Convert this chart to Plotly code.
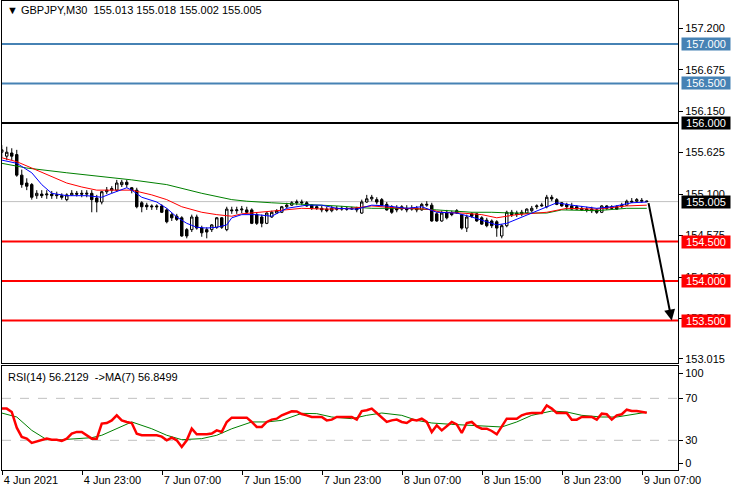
import plotly.graph_objects as go

# ---------------- data ----------------
bar_idx = list(range(130))
open_ = [155.63, 155.58, 155.62, 155.60, 155.34, 155.24, 155.22, 155.08, 155.10, 155.09,
         155.10, 155.08, 155.08, 155.03, 155.09, 155.11, 155.11, 155.10, 155.11, 155.05,
         155.00, 155.13, 155.15, 155.15, 155.22, 155.25, 155.18, 155.15, 154.99, 154.96,
         154.95, 154.95, 154.95, 154.90, 154.84, 154.82, 154.80, 154.65, 154.65, 154.81,
         154.67, 154.65, 154.65, 154.68, 154.80, 154.65, 154.90, 154.89, 154.90, 154.90,
         154.90, 154.84, 154.81, 154.73, 154.81, 154.86, 154.87, 154.94, 154.96, 154.99,
         155.00, 154.99, 154.96, 154.94, 154.92, 154.91, 154.89, 154.92, 154.91, 154.92,
         154.91, 154.92, 154.86, 155.00, 155.04, 155.03, 155.03, 154.97, 154.94, 154.92,
         154.91, 154.92, 154.91, 154.92, 154.90, 154.96, 154.96, 154.85, 154.76, 154.87,
         154.86, 154.89, 154.84, 154.67, 154.85, 154.85, 154.80, 154.77, 154.76, 154.75,
         154.57, 154.70, 154.87, 154.86, 154.87, 154.86, 154.89, 154.94, 154.95, 154.94,
         155.06, 155.03, 154.99, 154.97, 154.95, 154.94, 154.92, 154.91, 154.91, 154.90,
         154.87, 154.95, 154.94, 154.94, 154.94, 154.96, 155.01, 155.01, 155.01, 155.013]
high_ = [155.72, 155.70, 155.68, 155.66, 155.41, 155.30, 155.24, 155.15, 155.15, 155.15,
         155.14, 155.13, 155.11, 155.11, 155.15, 155.14, 155.15, 155.15, 155.15, 155.09,
         155.14, 155.19, 155.20, 155.28, 155.28, 155.28, 155.19, 155.18, 155.01, 154.99,
         154.97, 154.97, 154.97, 154.92, 154.86, 154.85, 154.82, 154.67, 154.84, 154.84,
         154.70, 154.68, 154.72, 154.81, 154.81, 154.94, 154.94, 154.94, 154.95, 154.94,
         154.92, 154.86, 154.84, 154.87, 154.89, 154.91, 154.95, 154.99, 155.01, 155.03,
         155.03, 155.01, 154.97, 154.96, 154.95, 154.94, 154.95, 154.95, 154.95, 154.94,
         154.94, 154.94, 155.03, 155.09, 155.09, 155.06, 155.05, 155.00, 154.96, 154.96,
         154.96, 154.96, 154.96, 154.95, 154.99, 155.01, 154.99, 154.87, 154.89, 154.90,
         154.89, 154.91, 154.85, 154.84, 154.87, 154.86, 154.82, 154.80, 154.78, 154.77,
         154.72, 154.89, 154.90, 154.89, 154.90, 154.92, 154.95, 154.97, 154.99, 155.09,
         155.09, 155.05, 155.00, 154.99, 154.99, 154.96, 154.95, 154.94, 154.94, 154.92,
         154.96, 154.96, 154.96, 154.96, 154.99, 155.03, 155.05, 155.05, 155.05, 155.018]
low_ = [155.56, 155.53, 155.53, 155.32, 155.18, 155.15, 155.03, 155.04, 155.05, 155.04,
        155.04, 155.04, 155.03, 155.01, 155.08, 155.07, 155.06, 155.06, 154.87, 154.87,
        154.97, 155.10, 155.11, 155.13, 155.19, 155.18, 155.11, 154.92, 154.87, 154.90,
        154.90, 154.90, 154.86, 154.73, 154.76, 154.76, 154.56, 154.54, 154.62, 154.65,
        154.56, 154.54, 154.62, 154.66, 154.66, 154.63, 154.85, 154.85, 154.86, 154.85,
        154.72, 154.71, 154.68, 154.72, 154.80, 154.85, 154.86, 154.92, 154.95, 154.96,
        154.96, 154.94, 154.90, 154.90, 154.87, 154.87, 154.87, 154.89, 154.89, 154.89,
        154.90, 154.87, 154.85, 154.99, 155.01, 154.97, 154.95, 154.89, 154.85, 154.87,
        154.89, 154.87, 154.89, 154.87, 154.89, 154.94, 154.75, 154.75, 154.75, 154.78,
        154.82, 154.85, 154.65, 154.62, 154.80, 154.75, 154.71, 154.68, 154.67, 154.56,
        154.54, 154.68, 154.81, 154.81, 154.82, 154.85, 154.87, 154.91, 154.94, 154.92,
        155.01, 154.96, 154.94, 154.90, 154.90, 154.90, 154.89, 154.87, 154.86, 154.85,
        154.86, 154.90, 154.90, 154.90, 154.92, 154.95, 154.99, 154.99, 154.99, 155.002]
close_ = [155.66, 155.63, 155.58, 155.34, 155.22, 155.20, 155.06, 155.11, 155.08, 155.10,
          155.08, 155.09, 155.06, 155.09, 155.11, 155.10, 155.10, 155.11, 155.03, 155.00,
          155.13, 155.15, 155.17, 155.24, 155.25, 155.22, 155.15, 154.94, 154.94, 154.94,
          154.94, 154.94, 154.87, 154.75, 154.80, 154.78, 154.57, 154.57, 154.81, 154.67,
          154.61, 154.62, 154.71, 154.80, 154.68, 154.91, 154.89, 154.90, 154.91, 154.87,
          154.73, 154.73, 154.73, 154.86, 154.87, 154.89, 154.94, 154.96, 154.99, 155.00,
          154.99, 154.95, 154.92, 154.92, 154.90, 154.89, 154.92, 154.91, 154.92, 154.91,
          154.92, 154.90, 155.00, 155.04, 155.06, 155.00, 154.96, 154.90, 154.87, 154.90,
          154.94, 154.90, 154.92, 154.90, 154.97, 154.97, 154.76, 154.76, 154.86, 154.80,
          154.84, 154.86, 154.67, 154.81, 154.82, 154.76, 154.72, 154.70, 154.70, 154.67,
          154.70, 154.87, 154.84, 154.84, 154.85, 154.91, 154.92, 154.95, 154.96, 155.06,
          155.04, 154.97, 154.95, 154.94, 154.91, 154.91, 154.90, 154.90, 154.89, 154.87,
          154.95, 154.92, 154.92, 154.91, 154.96, 155.01, 155.00, 155.03, 155.02, 155.005]

ma_fast_idx = [0, 3, 6, 8, 10, 13, 17, 20, 22, 25, 26, 28, 31, 33, 35, 37, 39, 41, 43, 45,
               46, 48, 51, 54, 57, 61, 64, 67, 71, 74, 77, 81, 84, 87, 91, 94, 97, 99, 101,
               104, 106, 109, 111, 114, 119, 122, 126, 129]
ma_fast = [155.53, 155.49, 155.37, 155.22, 155.11, 155.08, 155.08, 155.06, 155.11, 155.18,
           155.15, 155.06, 155.00, 154.92, 154.81, 154.73, 154.68, 154.67, 154.68, 154.71,
           154.80, 154.84, 154.84, 154.82, 154.92, 154.96, 154.96, 154.92, 154.91, 154.96,
           154.95, 154.92, 154.94, 154.87, 154.86, 154.81, 154.75, 154.71, 154.73, 154.81,
           154.86, 154.94, 154.99, 154.96, 154.92, 154.94, 154.99, 155.00]
ma_mid_idx = [0, 3, 6, 10, 13, 16, 19, 23, 26, 30, 33, 36, 40, 43, 46, 48, 52, 55, 60, 65,
              70, 74, 80, 85, 88, 92, 96, 99, 103, 109, 113, 119, 125, 129]
ma_mid = [155.56, 155.51, 155.43, 155.32, 155.24, 155.19, 155.15, 155.15, 155.15, 155.09,
          155.03, 154.94, 154.87, 154.84, 154.82, 154.85, 154.87, 154.89, 154.92, 154.91,
          154.92, 154.95, 154.92, 154.91, 154.87, 154.86, 154.84, 154.80, 154.84, 154.87,
          154.92, 154.91, 154.95, 154.96]
ma_slow_idx = [0, 5, 13, 20, 26, 33, 40, 46, 49, 54, 61, 67, 74, 81, 87, 94, 98, 102, 109,
               112, 119, 125, 129]
ma_slow = [155.49, 155.43, 155.37, 155.32, 155.28, 155.22, 155.11, 155.03, 155.01, 154.99,
           154.97, 154.95, 154.92, 154.92, 154.90, 154.87, 154.87, 154.86, 154.86, 154.90,
           154.89, 154.92, 154.92]

rsi = [60.2, 60.2, 57, 42, 33.2, 31.6, 27.5, 29, 30.6, 31.6,
       30.6, 30.6, 29.4, 31.6, 36.3, 38, 38, 34.8, 31.6, 31.6,
       45.9, 46.5, 49, 53.8, 49, 47.5, 46.5, 36.3, 34.8, 34.8,
       34.8, 34.8, 33.5, 30, 32.5, 30, 23.7, 30, 41.1, 35.7,
       35.7, 35.7, 36.5, 39.5, 38, 47.5, 51.6, 51.6, 51.6, 51.6,
       47.5, 42.7, 42.7, 47.5, 49.7, 50.6, 53.8, 55.4, 57.6, 57.5,
       55, 53.8, 52.2, 52.2, 52.2, 49, 49.7, 52.2, 52.2, 52.2,
       52.2, 49.7, 57.9, 58.6, 60.2, 56, 52, 47.5, 49, 49.7,
       47.5, 46.5, 49.7, 49, 50.6, 47.5, 37.9, 44.3, 39.5, 43.3,
       47.5, 45.2, 37, 46.5, 47.5, 43.3, 41.1, 41.1, 38.9, 35.7,
       42.7, 50.6, 50.6, 50.6, 53.8, 55.4, 56, 56, 56, 63.3,
       60.2, 56, 56, 56, 49.7, 49.7, 52.2, 52.2, 52.2, 49.7,
       55.4, 54.8, 49.7, 53.8, 54.8, 59.2, 57.9, 57.9, 57, 56.2]
rsi_ma_idx = [0, 3, 6, 9, 12, 18, 20, 23, 26, 30, 33, 36, 40, 43, 46, 50, 53, 56, 60, 63,
              66, 70, 73, 76, 80, 83, 86, 90, 93, 96, 100, 103, 106, 110, 113, 116, 120,
              123, 126, 129]
rsi_ma = [56, 52.2, 39.5, 30.6, 30.6, 32.5, 34.8, 41, 47.5, 41, 34.8, 30.6, 31.6, 34.8, 41,
          47.5, 47.5, 49, 55.7, 55.4, 52.2, 50.6, 53.8, 56, 53.8, 49, 46.5, 45.2, 44.3,
          43.3, 42.7, 47.5, 53.8, 57.9, 57, 53.8, 52.2, 52.2, 54.8, 56.8]

time_tick_idx = [0.2, 16.2, 32.2, 48.2, 64.2, 80.2, 96.2, 112.2, 128.2]
time_tick_labels = ["4 Jun 2021", "4 Jun 23:00", "7 Jun 07:00", "7 Jun 15:00",
                    "7 Jun 23:00", "8 Jun 07:00", "8 Jun 15:00", "8 Jun 23:00",
                    "9 Jun 07:00"]
price_ticks = [157.2, 156.675, 156.15, 155.625, 155.1, 154.575, 154.05, 153.525, 153.015]
level_prices = [157.0, 156.5, 156.0, 154.5, 154.0, 153.5]
level_colors = ["#4682B4", "#4682B4", "#000000", "#FF0000", "#FF0000", "#FF0000"]
current_price = 155.005
arrow_from = (129.3, 155.005)
arrow_to = (134.0, 153.5)
rsi_levels = [70, 30]
rsi_tick_vals = [93.8, 70, 30, 8.1]
rsi_tick_text = ["100", "70", "30", "0"]

title_text = "▼ GBPJPY,M30  155.013 155.018 155.002 155.005"
rsi_text = "RSI(14) 56.2129  ->MA(7) 56.8499"

FONT = "Liberation Sans, Arial, sans-serif"

# ---------------- figure ----------------
fig = go.Figure()

fig.add_trace(go.Candlestick(
    x=bar_idx, open=open_, high=high_, low=low_, close=close_,
    increasing=dict(line=dict(color="black", width=1), fillcolor="white"),
    decreasing=dict(line=dict(color="black", width=1), fillcolor="black"),
    whiskerwidth=0, hoverinfo="skip", xaxis="x", yaxis="y", showlegend=False))

fig.add_trace(go.Scatter(x=ma_slow_idx, y=ma_slow, mode="lines",
                         line=dict(color="#008000", width=1), xaxis="x", yaxis="y", hoverinfo="skip"))
fig.add_trace(go.Scatter(x=ma_mid_idx, y=ma_mid, mode="lines",
                         line=dict(color="#FF0000", width=1), xaxis="x", yaxis="y", hoverinfo="skip"))
fig.add_trace(go.Scatter(x=ma_fast_idx, y=ma_fast, mode="lines",
                         line=dict(color="#0000FF", width=1), xaxis="x", yaxis="y", hoverinfo="skip"))

fig.add_trace(go.Scatter(x=rsi_ma_idx, y=rsi_ma, mode="lines",
                         line=dict(color="#008000", width=1), xaxis="x2", yaxis="y2", hoverinfo="skip"))
fig.add_trace(go.Scatter(x=bar_idx, y=rsi, mode="lines",
                         line=dict(color="#FF0000", width=2.5), xaxis="x2", yaxis="y2", hoverinfo="skip"))

shapes = []
shapes.append(dict(type="line", xref="x domain", yref="y", x0=0, x1=1,
                   y0=current_price, y1=current_price, layer="below",
                   line=dict(color="#C0C0C0", width=1)))
for p, c in zip(level_prices, level_colors):
    shapes.append(dict(type="line", xref="x domain", yref="y", x0=0, x1=1, y0=p, y1=p,
                       line=dict(color=c, width=2)))
for lv in rsi_levels:
    shapes.append(dict(type="line", xref="x2 domain", yref="y2", x0=0, x1=1, y0=lv, y1=lv,
                       layer="below", line=dict(color="#C0C0C0", width=1, dash="dash")))

annotations = []
tag_prices = level_prices[:3] + [current_price] + level_prices[3:]
tag_colors = level_colors[:3] + ["#000000"] + level_colors[3:]
for p, c in zip(tag_prices, tag_colors):
    annotations.append(dict(xref="paper", yref="y", x=1, y=p, xanchor="left", yanchor="middle",
                            xshift=3, text="%.3f" % p, showarrow=False, bgcolor=c,
                            font=dict(color="white", size=11, family=FONT),
                            width=48, height=12, borderpad=0))
annotations.append(dict(xref="x", yref="y", axref="x", ayref="y",
                        x=arrow_to[0], y=arrow_to[1], ax=arrow_from[0], ay=arrow_from[1],
                        text="", showarrow=True, arrowhead=2, arrowsize=1.1, arrowwidth=2,
                        arrowcolor="black"))
annotations.append(dict(xref="paper", yref="paper", x=0.0044, y=0.981, xanchor="left",
                        yanchor="middle", text=title_text, showarrow=False,
                        font=dict(size=11, color="black", family=FONT)))
annotations.append(dict(xref="paper", yref="paper", x=0.0059, y=0.198, xanchor="left",
                        yanchor="middle", text=rsi_text, showarrow=False,
                        font=dict(size=11, color="black", family=FONT)))

axis_common = dict(showgrid=False, zeroline=False, showline=True, linecolor="black",
                   linewidth=1, mirror=True, automargin=False)

fig.update_layout(
    width=735, height=495,
    margin=dict(l=2, r=57, t=1, b=25, autoexpand=False),
    paper_bgcolor="white", plot_bgcolor="white",
    showlegend=False,
    font=dict(family=FONT, size=11, color="black"),
    xaxis=dict(domain=[0, 1], anchor="y", range=[0.05, 135.25], showticklabels=False,
               ticks="", rangeslider=dict(visible=False), **axis_common),
    yaxis=dict(domain=[0.2281, 1], anchor="x", range=[152.962, 157.544], side="right",
               tickvals=price_ticks, ticktext=["%.3f" % v for v in price_ticks],
               ticks="outside", ticklen=4, tickcolor="black", **axis_common),
    xaxis2=dict(domain=[0, 1], anchor="y2", matches="x", range=[0.05, 135.25],
                tickvals=time_tick_idx, ticktext=time_tick_labels, ticks="outside",
                ticklen=4, tickcolor="black", ticklabelposition="outside right",
                rangeslider=dict(visible=False), **axis_common),
    yaxis2=dict(domain=[0, 0.2217], anchor="x2", range=[1.7, 100.8], side="right",
                tickvals=rsi_tick_vals, ticktext=rsi_tick_text, ticks="outside",
                ticklen=4, tickcolor="black", **axis_common),
    shapes=shapes,
    annotations=annotations,
)

fig.write_html("out.html", config={"displayModeBar": False},
               post_script="document.body.style.margin='0px';document.body.style.overflow='hidden';")
